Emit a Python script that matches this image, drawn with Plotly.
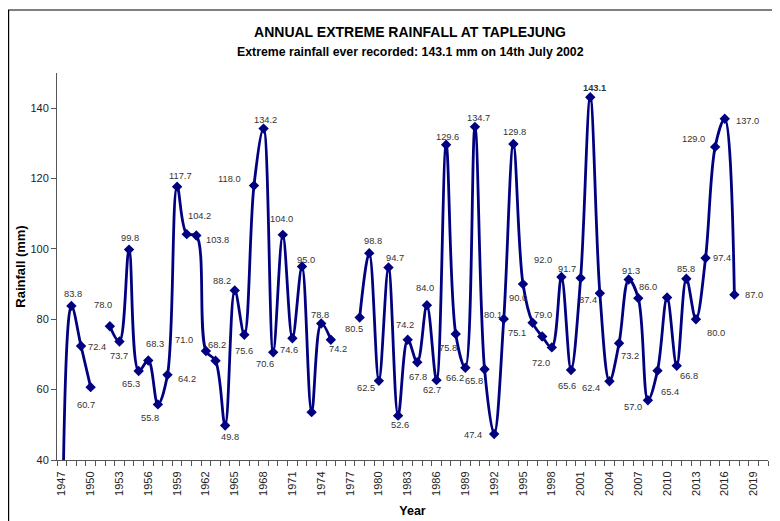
import plotly.graph_objects as go

# ---- data ----
years = list(range(1947, 2018))
rainfall = [
    0.0, 83.8, 72.4, 60.7, None, 78.0, 73.7, 99.8, 65.3, 68.3,
    55.8, 64.2, 117.7, 104.2, 103.8, 71.0, 68.2, 49.8, 88.2, 75.6,
    118.0, 134.2, 70.6, 104.0, 74.6, 95.0, 53.6, 78.8, 74.2, None,
    None, 80.5, 98.8, 62.5, 94.7, 52.6, 74.2, 67.8, 84.0, 62.7,
    129.6, 75.8, 66.2, 134.7, 65.8, 47.4, 80.1, 129.8, 90.0, 79.0,
    75.1, 72.0, 92.0, 65.6, 91.7, 143.1, 87.4, 62.4, 73.2, 91.3,
    86.0, 57.0, 65.4, 86.2, 66.8, 91.5, 80.0, 97.4, 129.0, 137.0,
    87.0,
]
point_labels = [
    "", "83.8", "72.4", "60.7", "", "78.0", "73.7", "99.8", "65.3", "68.3",
    "55.8", "64.2", "117.7", "104.2", "103.8", "71.0", "68.2", "49.8", "88.2", "75.6",
    "118.0", "134.2", "70.6", "104.0", "74.6", "95.0", "", "78.8", "74.2", "",
    "", "80.5", "98.8", "62.5", "94.7", "52.6", "74.2", "67.8", "84.0", "62.7",
    "129.6", "75.8", "66.2", "134.7", "65.8", "47.4", "80.1", "129.8", "90.0", "79.0",
    "75.1", "72.0", "92.0", "65.6", "91.7", "143.1", "87.4", "62.4", "73.2", "91.3",
    "86.0", "57.0", "65.4", "", "66.8", "85.8", "80.0", "97.4", "129.0", "137.0",
    "87.0",
]
tick_years = list(range(1947, 2020, 3))
tick_labels = [str(y) for y in tick_years]
y_ticks = [40, 60, 80, 100, 120, 140]

# label placement offsets (screen px: dx right, dy down) – styling only
label_offsets = {
    1948: (2, -12), 1949: (16, 1), 1950: (-5, 18), 1952: (-7, -21), 1953: (0, 15),
    1954: (1, -12), 1955: (-8, 13), 1956: (7, -16), 1957: (-8, 14), 1958: (20, 4),
    1959: (3, -11), 1960: (13, -18), 1961: (21, 4), 1962: (-22, -11), 1963: (1, -16),
    1964: (5, 11), 1965: (-13, -9), 1966: (0, 16), 1967: (-24, -7), 1968: (2, -9),
    1969: (-8, 12), 1970: (-1, -16), 1971: (-3, 12), 1972: (4, -7), 1974: (-1, -8),
    1975: (7, 9), 1978: (-6, 11), 1979: (4, -12), 1980: (-13, 7), 1981: (7, -10),
    1982: (2, 9), 1983: (-3, -15), 1984: (1, 15), 1985: (-2, -17), 1986: (-5, 10),
    1987: (1, -8), 1988: (-8, 14), 1989: (-10, 10), 1990: (4, -9), 1991: (-11, 12),
    1992: (-21, 1), 1993: (-11, -4), 1994: (1, -12), 1995: (-5, 14), 1996: (10, -8),
    1997: (-25, -4), 1998: (-11, 16), 1999: (-18, -17), 2000: (-4, 16), 2001: (-14, -9),
    2002: (4, -9), 2003: (-12, 7), 2004: (-18, 7), 2005: (11, 13), 2006: (2, -9),
    2007: (10, -11), 2008: (-15, 7), 2009: (12, 21), 2011: (12, 10), 2012: (0, -10),
    2013: (20, 14), 2014: (16, 0), 2015: (-22, -8), 2016: (23, 2), 2017: (20, 0),
}

FONT = "Liberation Sans, Arial, sans-serif"
NAVY = "#000080"
AXIS = "#555555"

# page body adds an 8px offset; layout numbers below are in figure pixels
W, H = 780, 521
OFF = 8
PL, PR, PT, PB = 57 - OFF, 768 - OFF, 73 - OFF, 460 - OFF
PW, PH = PR - PL, PB - PT


def px(sx):
    return (sx - OFF - PL) / PW


def py(sy):
    return (PB - (sy - OFF)) / PH


fig = go.Figure()
fig.add_trace(go.Scatter(
    x=years, y=rainfall, mode="lines+markers",
    line=dict(color=NAVY, width=2.8, shape="spline", smoothing=1.0),
    marker=dict(symbol="diamond", size=8, color=NAVY),
    connectgaps=False, cliponaxis=True, showlegend=False,
))

annotations = []
for yr, val, lab in zip(years, rainfall, point_labels):
    if not lab or val is None:
        continue
    dx, dy = label_offsets.get(yr, (0, -10))
    annotations.append(dict(
        x=yr, y=val, xref="x", yref="y", text=("<b>%s</b>" % lab) if yr == 2002 else lab,
        showarrow=False, xshift=dx, yshift=-dy,
        font=dict(family=FONT, size=9.3, color="#333333"),
    ))

# subtitle
annotations.append(dict(
    x=px(410), y=py(52), xref="paper", yref="paper",
    text="<b>Extreme rainfall ever recorded: 143.1 mm on 14th July 2002</b>",
    showarrow=False, xanchor="center", yanchor="middle",
    font=dict(family=FONT, size=12.3, color="#000000"),
))

fig.update_layout(
    width=W, height=H,
    margin=dict(l=PL, r=W - PR, t=PT, b=H - PB, autoexpand=False),
    paper_bgcolor="white", plot_bgcolor="white",
    font=dict(family=FONT, color="#000000"),
    title=dict(
        text="<b>ANNUAL EXTREME RAINFALL AT TAPLEJUNG</b>",
        x=(410 - OFF) / W, xanchor="center", y=1 - (32 - OFF) / H, yanchor="middle",
        xref="container", yref="container",
        font=dict(family=FONT, size=14, color="#000000"),
    ),
    annotations=annotations,
    shapes=[dict(
        type="rect", xref="paper", yref="paper",
        x0=(0.6 - PL) / PW, x1=1.3, y0=-0.5, y1=py(10),
        line=dict(color="#000000", width=1.2), fillcolor="rgba(0,0,0,0)", layer="below",
    )],
    xaxis=dict(
        range=[1946.5, 2020.5], tickmode="array", tickvals=tick_years, ticktext=tick_labels,
        tickangle=-90, ticks="", showgrid=False, zeroline=False,
        showline=True, linecolor=AXIS, linewidth=1,
        tickfont=dict(family=FONT, size=11, color="#222222"),
        ticklabelstandoff=6,
        minor=dict(tickmode="array", tickvals=[y - 0.5 for y in range(1947, 2022)],
                   ticks="outside", ticklen=5, tickcolor=AXIS, tickwidth=1, showgrid=False),
        title=dict(text="<b>Year</b>", standoff=11,
                   font=dict(family=FONT, size=12.5, color="#000000")),
        automargin=False,
    ),
    yaxis=dict(
        range=[40, 150], tickmode="array", tickvals=y_ticks,
        ticks="outside", ticklen=5, tickcolor=AXIS, tickwidth=1,
        showgrid=False, zeroline=False, showline=True, linecolor=AXIS, linewidth=1,
        tickfont=dict(family=FONT, size=11, color="#222222"),
        title=dict(text="<b>Rainfall (mm)</b>", standoff=1,
                   font=dict(family=FONT, size=13, color="#000000")),
        automargin=False,
    ),
)

fig.write_html("out.html")
